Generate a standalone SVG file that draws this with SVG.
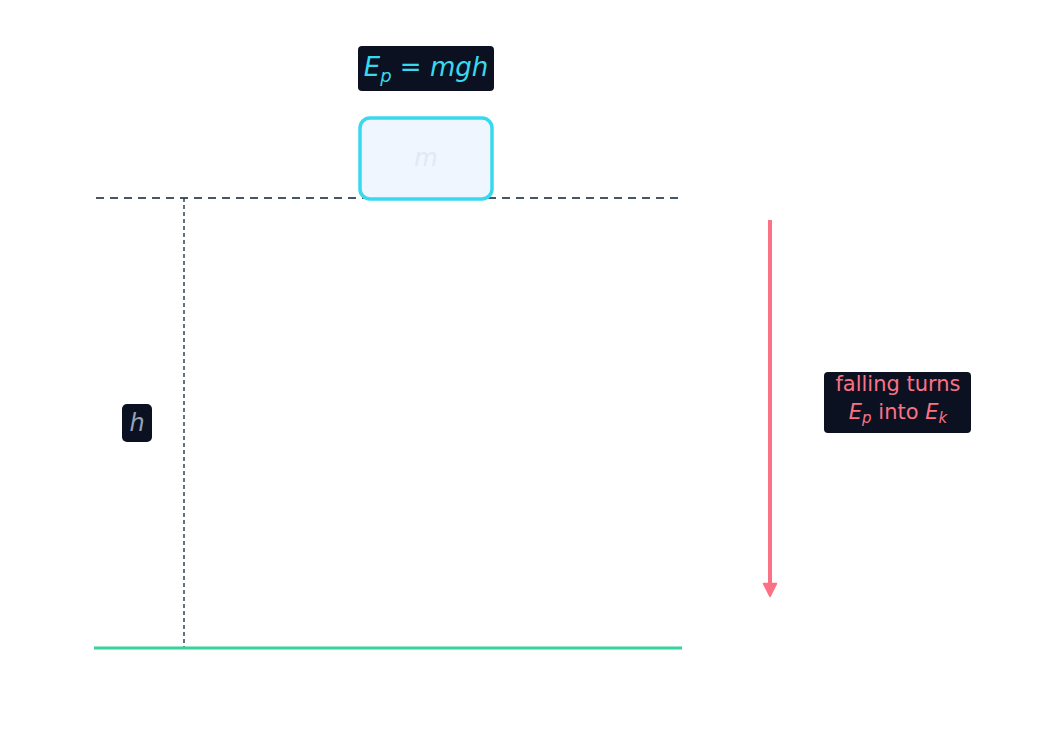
<svg xmlns="http://www.w3.org/2000/svg" width="1056" height="756" viewBox="0 0 1056 756">
<style>
text{font-family:"DejaVu Sans",sans-serif}
.lbl{fill:#0b1120}
.it{font-style:italic}
</style>
<defs>
<marker id="ah" viewBox="0 0 10 10" refX="5" refY="5" markerWidth="4" markerHeight="4" orient="auto" markerUnits="strokeWidth">
<path d="M1,1 L9,5 L1,9 Z" fill="#fb7185" stroke="#fb7185" stroke-width="1" stroke-linejoin="round"/>
</marker>
</defs>
<rect width="1056" height="756" fill="#ffffff"/>
<g id="connectors">
<line x1="96" y1="198" x2="682" y2="198" stroke="#475569" stroke-width="2" stroke-dasharray="8,6"/>
<line x1="184" y1="198" x2="184" y2="648" stroke="#334155" stroke-width="1.5" stroke-dasharray="4,3"/>
<line x1="94" y1="648" x2="682" y2="648" stroke="#34d399" stroke-width="3"/>
<line x1="770" y1="220" x2="770" y2="590" stroke="#fb7185" stroke-width="4" marker-end="url(#ah)"/>
</g>
<g id="mass">
<rect x="360" y="118" width="132" height="81" rx="10" fill="#eff6ff" stroke="#38d9ee" stroke-width="3.5"/>
<text x="426" y="166" text-anchor="middle" font-size="24" class="it" fill="#e2e8f4">m</text>
</g>
<g id="formula">
<rect x="358" y="46" width="136" height="45" rx="4" class="lbl"/>
<text x="426" y="76" text-anchor="middle" font-size="26" fill="#38d9ee"><tspan class="it">E</tspan><tspan class="it" font-size="18" dy="6">p</tspan><tspan dy="-6"> = </tspan><tspan class="it">mgh</tspan></text>
</g>
<g id="h">
<rect x="122" y="404" width="30" height="38" rx="5" class="lbl"/>
<text x="137" y="431" text-anchor="middle" font-size="24" class="it" fill="#94a3b8">h</text>
</g>
<g id="falling">
<rect x="824" y="372" width="147" height="61" rx="4" class="lbl"/>
<text x="898" y="391" text-anchor="middle" font-size="21" fill="#fb7185">falling turns</text>
<text x="898" y="419" text-anchor="middle" font-size="21" fill="#fb7185"><tspan class="it">E</tspan><tspan class="it" font-size="15" dy="4">p</tspan><tspan dy="-4"> into </tspan><tspan class="it">E</tspan><tspan class="it" font-size="15" dy="4">k</tspan></text>
</g>
</svg>
